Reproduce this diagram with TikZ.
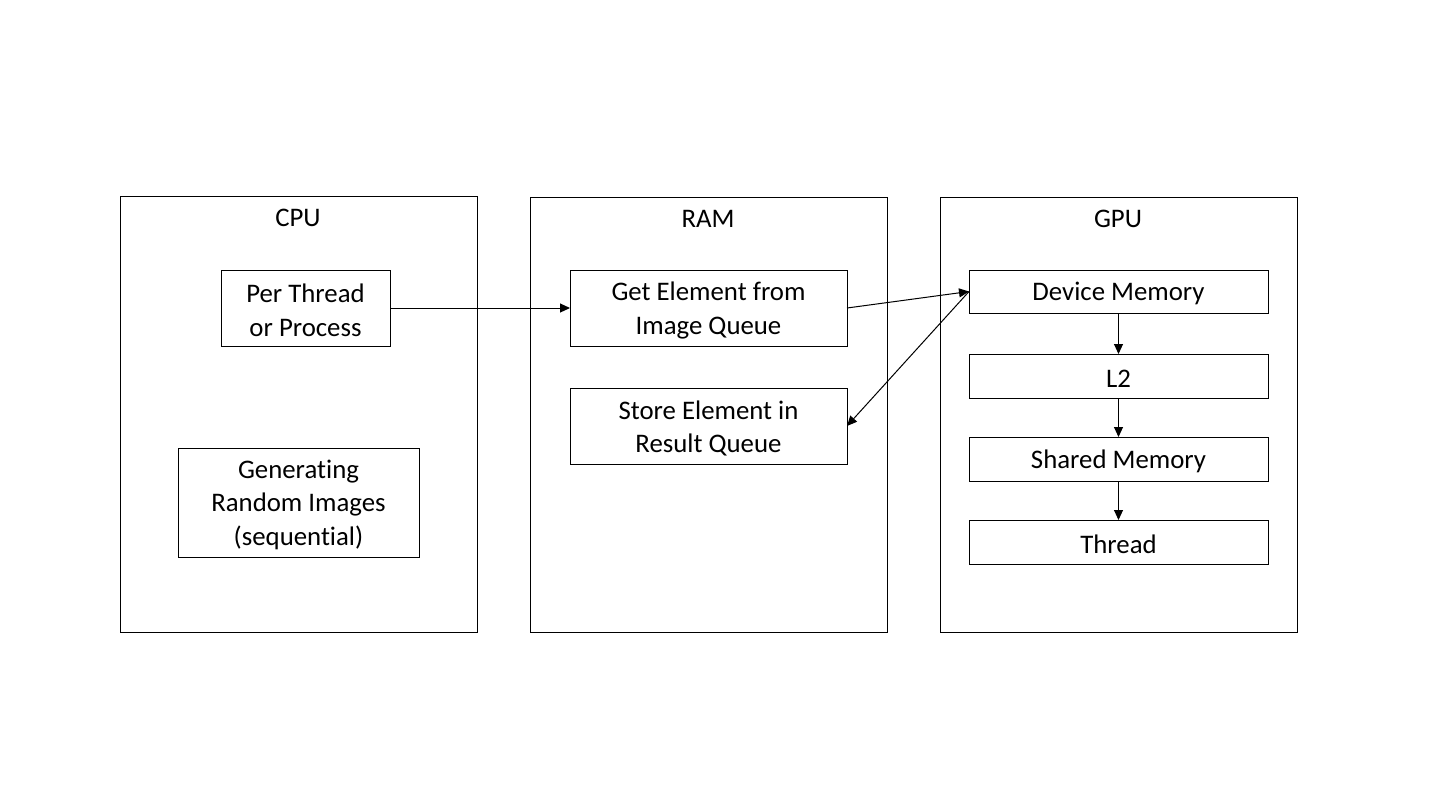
\documentclass[tikz,border=0pt]{standalone}
\usepackage{fontspec}
\setmainfont{Carlito}[Ligatures=NoCommon]
\usetikzlibrary{arrows.meta}
\begin{document}
\begin{tikzpicture}[x=0.5pt,y=-0.5pt,
  every node/.style={inner sep=0pt,outer sep=0pt},
  region/.style={draw,line width=0.5pt},
  txt/.style={align=center,yshift=-1.2pt,font=\fontsize{13.4}{16.7}\selectfont},
  item/.style={draw,line width=0.5pt,label={[txt]center:{#1}}},
  title/.style={font=\fontsize{13.4}{16}\selectfont},
  conn/.style={line width=0.5pt,-{Triangle[length=5pt,width=4.5pt]}}]
\useasboundingbox (0,0) rectangle (1440,810);
% regions
\node[region,minimum width=178.5pt,minimum height=218pt,anchor=north west] (cpu) at (120,196) {};
\node[region,minimum width=178.5pt,minimum height=217.5pt,anchor=north west] (ram) at (530,197) {};
\node[region,minimum width=178.5pt,minimum height=217.5pt,anchor=north west] (gpu) at (940,197) {};
\node[title] (cputitle) at (298,218) {CPU};
\node[title] (ramtitle) at (708,219) {RAM};
\node[title] (gputitle) at (1118,219) {GPU};
% CPU items
\node[item={Per Thread\\or Process},minimum width=84.5pt,minimum height=38pt] (per) at (305.5,308) {};
\node[item={Generating\\Random Images\\(sequential)},minimum width=120.5pt,minimum height=54.5pt] (gen) at (298.5,502.5) {};
% RAM items
\node[item={Get Element from\\Image Queue},minimum width=138.5pt,minimum height=38pt] (get) at (708.5,308) {};
\node[item={Store Element in\\Result Queue},minimum width=138.5pt,minimum height=38pt] (store) at (708.5,426) {};
% GPU items
\node[item={Device Memory},minimum width=149.5pt,minimum height=21.5pt] (dev) at (1118.5,291.5) {};
\node[item={L2},minimum width=149.5pt,minimum height=22pt] (l2) at (1118.5,376) {};
\node[item={Shared Memory},minimum width=149.5pt,minimum height=22pt] (shared) at (1118.5,459) {};
\node[item={Thread},minimum width=149.5pt,minimum height=22pt] (thread) at (1118.5,542) {};
% connectors
\draw[conn] (per.east) -- (get.west);
\draw[conn] (get.east) -- (dev.west);
\draw[conn] (dev.west) -- (store.east);
\draw[conn] (dev.south) -- (l2.north);
\draw[conn] (l2.south) -- (shared.north);
\draw[conn] (shared.south) -- (thread.north);
\end{tikzpicture}
\end{document}
